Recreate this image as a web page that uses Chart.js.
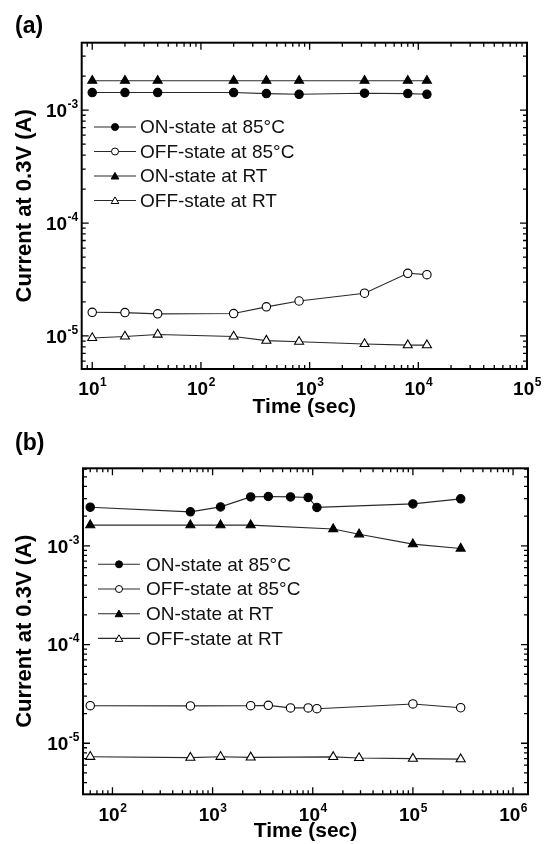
<!DOCTYPE html>
<html>
<head>
<meta charset="utf-8">
<script src="https://cdn.jsdelivr.net/npm/chart.js@4.4.0/dist/chart.umd.min.js"></script>
<style>
  body { margin: 0; background: #fff; font-family: "Liberation Sans", Arial, sans-serif; }
  #page { position: relative; width: 545px; height: 844px; overflow: hidden; }
  .panel { position: absolute; left: 0; width: 545px; height: 422px; }
  .tag { position: absolute; left: 15px; font-size: 23px; line-height: 26px; font-weight: bold; color: #000; }
</style>
</head>
<body>
<div id="page">
  <div class="panel" style="top:0"><canvas id="chartA"></canvas></div>
  <div class="panel" style="top:422px"><canvas id="chartB"></canvas></div>
  <div class="tag" style="top:12px">(a)</div>
  <div class="tag" style="top:429px">(b)</div>
</div>
<script>
// ---- data, panel (a) ----
const timeA = [10, 20, 40, 200, 400, 800, 3200, 8000, 12000];
const on85A  = [1.43e-3, 1.43e-3, 1.43e-3, 1.43e-3, 1.40e-3, 1.38e-3, 1.41e-3, 1.40e-3, 1.38e-3];
const off85A = [1.62e-5, 1.61e-5, 1.57e-5, 1.58e-5, 1.81e-5, 2.04e-5, 2.39e-5, 3.59e-5, 3.49e-5];
const onRTA  = [1.82e-3, 1.82e-3, 1.82e-3, 1.82e-3, 1.82e-3, 1.82e-3, 1.82e-3, 1.82e-3, 1.82e-3];
const offRTA = [9.6e-6, 9.9e-6, 1.03e-5, 9.9e-6, 9.1e-6, 8.9e-6, 8.5e-6, 8.3e-6, 8.3e-6];

// ---- data, panel (b) ----
const timeOn85B  = [60, 600, 1200, 2400, 3600, 6000, 9000, 11000, 100000, 300000];
const on85B      = [2.46e-3, 2.21e-3, 2.48e-3, 3.13e-3, 3.16e-3, 3.13e-3, 3.09e-3, 2.45e-3, 2.66e-3, 2.99e-3];
const timeOff85B = [60, 600, 2400, 3600, 6000, 9000, 11000, 100000, 300000];
const off85B     = [2.40e-5, 2.39e-5, 2.40e-5, 2.42e-5, 2.28e-5, 2.28e-5, 2.24e-5, 2.50e-5, 2.29e-5];
const timeRTB    = [60, 600, 1200, 2400, 16000, 29000, 100000, 300000];
const onRTB      = [1.62e-3, 1.62e-3, 1.62e-3, 1.62e-3, 1.48e-3, 1.31e-3, 1.04e-3, 0.94e-3];
const offRTB     = [7.3e-6, 7.15e-6, 7.3e-6, 7.2e-6, 7.27e-6, 7.1e-6, 6.98e-6, 6.9e-6];

const seriesNames = ['ON-state at 85°C', 'OFF-state at 85°C', 'ON-state at RT', 'OFF-state at RT'];
const xTitle = 'Time (sec)';
const yTitle = 'Current at 0.3V (A)';

const FAMILY = '"Liberation Sans", Arial, sans-serif';
const LINE = '#2a2a2a';

function pts(xs, ys) { return xs.map((x, i) => ({ x: x, y: ys[i] })); }

// marker look per series: [style, filled]
const markers = [['circle', true], ['circle', false], ['triangle', true], ['triangle', false]];

function makeSets(list) {
  return list.map((d, i) => {
    const [style, filled] = markers[i];
    return {
      label: seriesNames[i],
      data: d,
      borderColor: LINE,
      borderWidth: 1.1,
      tension: 0,
      pointStyle: style,
      pointRadius: style === 'triangle' ? 5.2 : 4.2,
      pointBorderWidth: 1.1,
      pointBorderColor: '#000',
      pointBackgroundColor: filled ? '#000' : '#fff'
    };
  });
}

function marker(ctx, style, filled, x, y, r) {
  ctx.beginPath();
  if (style === 'circle') {
    ctx.arc(x, y, r, 0, Math.PI * 2);
  } else {
    for (let k = 0; k < 3; k++) {
      const a = k * 2 * Math.PI / 3;
      const px = x + Math.sin(a) * r, py = y - Math.cos(a) * r;
      k === 0 ? ctx.moveTo(px, py) : ctx.lineTo(px, py);
    }
    ctx.closePath();
  }
  ctx.fillStyle = filled ? '#000' : '#fff';
  ctx.fill();
  ctx.lineWidth = 1;
  ctx.strokeStyle = '#000';
  ctx.stroke();
}

// "10" with a raised exponent
function drawPow(ctx, e, x, y, align) {
  const base = '10', sup = String(e);
  ctx.font = 'bold 19px ' + FAMILY;
  const wb = ctx.measureText(base).width;
  ctx.font = 'bold 12px ' + FAMILY;
  const ws = ctx.measureText(sup).width;
  const x0 = align === 'center' ? x - (wb + ws) / 2 : x - wb - ws;
  ctx.fillStyle = '#000';
  ctx.textAlign = 'left';
  ctx.textBaseline = 'middle';
  ctx.font = 'bold 19px ' + FAMILY;
  ctx.fillText(base, x0, y);
  ctx.font = 'bold 12px ' + FAMILY;
  ctx.fillText(sup, x0 + wb + 0.5, y - 7);
}

function logTicks(min, max) {
  const out = [];
  for (let e = Math.floor(Math.log10(min)); e <= Math.ceil(Math.log10(max)); e++) {
    for (let k = 1; k <= 9; k++) {
      const v = k * Math.pow(10, e);
      if (v >= min * 1.0001 && v <= max * 0.9999) out.push({ v: v, major: k === 1, e: e });
    }
  }
  return out;
}

// frame, inward ticks on four sides, tick labels, legend
const framePlugin = {
  id: 'framePlugin',
  afterDatasetsDraw(chart, args, opts) {
    const ctx = chart.ctx;
    const a = chart.chartArea;
    const xs = chart.scales.x, ys = chart.scales.y;
    ctx.save();
    ctx.strokeStyle = '#000';
    ctx.lineWidth = 1.3;
    ctx.beginPath();
    logTicks(xs.min, xs.max).forEach(t => {
      const px = xs.getPixelForValue(t.v);
      const len = t.major ? 7 : 4;
      ctx.moveTo(px, a.bottom); ctx.lineTo(px, a.bottom - len);
      ctx.moveTo(px, a.top); ctx.lineTo(px, a.top + len);
    });
    logTicks(ys.min, ys.max).forEach(t => {
      const py = ys.getPixelForValue(t.v);
      const len = t.major ? 7 : 4;
      ctx.moveTo(a.left, py); ctx.lineTo(a.left + len, py);
      ctx.moveTo(a.right, py); ctx.lineTo(a.right - len, py);
    });
    ctx.stroke();
    ctx.lineWidth = 2;
    ctx.strokeRect(a.left, a.top, a.right - a.left, a.bottom - a.top);

    logTicks(xs.min, xs.max * 1.01).filter(t => t.major).forEach(t => {
      drawPow(ctx, t.e, xs.getPixelForValue(t.v), a.bottom + 21, 'center');
    });
    logTicks(ys.min, ys.max).filter(t => t.major).forEach(t => {
      drawPow(ctx, t.e, a.left - 4, ys.getPixelForValue(t.v) + 1.5, 'right');
    });

    const lg = opts.legend;
    chart.data.datasets.forEach((ds, i) => {
      const y = lg.y + i * lg.dy;
      ctx.strokeStyle = LINE;
      ctx.lineWidth = 1.1;
      ctx.beginPath();
      ctx.moveTo(lg.x0, y); ctx.lineTo(lg.x1, y);
      ctx.stroke();
      const [style, filled] = markers[i];
      marker(ctx, style, filled, (lg.x0 + lg.x1) / 2, y + (style === 'triangle' ? 0.8 : 0), style === 'triangle' ? 4.4 : 3.5);
      ctx.fillStyle = '#111';
      ctx.font = '19px ' + FAMILY;
      ctx.textAlign = 'left';
      ctx.textBaseline = 'middle';
      ctx.fillText(ds.label, lg.tx, y + 1);
    });
    ctx.restore();
  }
};

function makeChart(id, sets, c) {
  return new Chart(document.getElementById(id), {
    type: 'line',
    data: { datasets: sets },
    options: {
      responsive: true,
      maintainAspectRatio: false,
      animation: false,
      layout: { padding: { left: 0, right: c.padRight, top: c.padTop, bottom: 0 } },
      scales: {
        x: {
          type: 'logarithmic', min: c.xMin, max: c.xMax,
          ticks: { display: false },
          grid: { display: false, drawTicks: false },
          border: { display: false },
          title: { display: true, text: xTitle, color: '#000',
                   font: { family: FAMILY, size: 21, weight: 'bold' },
                   padding: { top: c.xTitleTop, bottom: c.xTitleBottom } }
        },
        y: {
          type: 'logarithmic', min: c.yMin, max: c.yMax,
          ticks: { display: false },
          grid: { display: false, drawTicks: false },
          border: { display: false },
          title: { display: true, text: yTitle, color: '#000',
                   font: { family: FAMILY, size: 22, weight: 'bold' },
                   padding: { top: 11.8, bottom: c.yTitleBottom } }
        }
      },
      plugins: {
        legend: { display: false },
        tooltip: { enabled: false },
        framePlugin: { legend: c.legend }
      }
    },
    plugins: [framePlugin]
  });
}

makeChart('chartA', makeSets([pts(timeA, on85A), pts(timeA, off85A), pts(timeA, onRTA), pts(timeA, offRTA)]), {
  xMin: 8, xMax: 1e5, yMin: 5.1e-6, yMax: 3.95e-3,
  padRight: 18, padTop: 42.7,
  xTitleTop: 25.4, xTitleBottom: 2.4, yTitleBottom: 43.5,
  legend: { x0: 94, x1: 136, tx: 140, y: 127, dy: 24.5 }
});

makeChart('chartB', makeSets([pts(timeOn85B, on85B), pts(timeOff85B, off85B), pts(timeRTB, onRTB), pts(timeRTB, offRTB)]), {
  xMin: 50.8, xMax: 1.41e6, yMin: 3.04e-6, yMax: 6.1e-3,
  padRight: 17, padTop: 46.3,
  xTitleTop: 24.3, xTitleBottom: 0.2, yTitleBottom: 44.8,
  legend: { x0: 98, x1: 140, tx: 146, y: 142.3, dy: 24.7 }
});
</script>
</body>
</html>
